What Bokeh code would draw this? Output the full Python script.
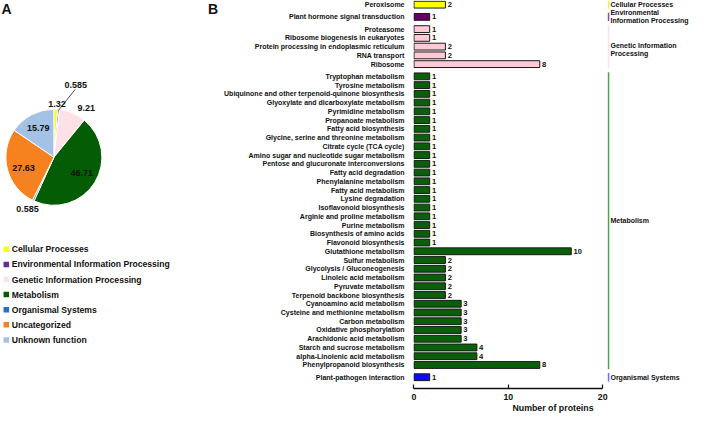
import math
from bokeh.plotting import figure
from bokeh.models import Range1d, FixedTicker, ColumnDataSource
from bokeh.layouts import row
from bokeh.embed import file_html
from bokeh.resources import INLINE
from bokeh.core.properties import value

# ---------------- data ----------------
pie_categories = ["Cellular Processes", "Environmental Information Processing",
                  "Genetic Information Processing", "Metabolism", "Organismal Systems",
                  "Uncategorized", "Unknown function"]
pie_values = [1.32, 0.585, 9.21, 46.71, 0.585, 27.63, 15.79]
pie_labels = ["1.32", "0.585", "9.21", "46.71", "0.585", "27.63", "15.79"]
pie_colors = ["#ffff00", "#6a2a9a", "#fde1e6", "#045d04", "#1f6fd6", "#f5821f", "#a3c2e6"]

group_names = ["Cellular Processes", "Environmental\nInformation Processing",
               "Genetic Information\nProcessing", "Metabolism", "Organismal Systems"]
group_bar_colors = ["#ffff00", "#660066", "#ffc9d6", "#0a5f0a", "#0a0aff"]
group_line_colors = ["#eeee44", "#8a4aa5", "#f9e1ea", "#4fa34f", "#6c6cf0"]

pathways = [
    "Peroxisome",
    "Plant hormone signal transduction",
    "Proteasome", "Ribosome biogenesis in eukaryotes",
    "Protein processing in endoplasmic reticulum", "RNA transport", "Ribosome",
    "Tryptophan metabolism", "Tyrosine metabolism",
    "Ubiquinone and other terpenoid-quinone biosynthesis",
    "Glyoxylate and dicarboxylate metabolism", "Pyrimidine metabolism",
    "Propanoate metabolism", "Fatty acid biosynthesis",
    "Glycine, serine and threonine metabolism", "Citrate cycle (TCA cycle)",
    "Amino sugar and nucleotide sugar metabolism",
    "Pentose and glucuronate interconversions", "Fatty acid degradation",
    "Phenylalanine metabolism", "Fatty acid metabolism", "Lysine degradation",
    "Isoflavonoid biosynthesis", "Arginie and proline metabolism",
    "Purine metabolism", "Biosynthesis of amino acids", "Flavonoid biosynthesis",
    "Glutathione metabolism", "Sulfur metabolism", "Glycolysis / Gluconeogenesis",
    "Linoleic acid metabolism", "Pyruvate metabolism",
    "Terpenoid backbone biosynthesis", "Cyanoamino acid metabolism",
    "Cysteine and methionine metabolism", "Carbon metabolism",
    "Oxidative phosphorylation", "Arachidonic acid metabolism",
    "Starch and sucrose metabolism", "alpha-Linolenic acid metabolism",
    "Phenylpropanoid biosynthesis",
    "Plant-pathogen interaction",
]
pathway_group = [0, 1, 2, 2, 2, 2, 2] + [3] * 34 + [4]
protein_counts = [2, 1, 1, 1, 2, 2, 8,
                  1, 1, 1, 1, 1, 1, 1, 1, 1, 1, 1, 1, 1, 1, 1, 1, 1, 1, 1, 1,
                  10, 2, 2, 2, 2, 2, 3, 3, 3, 3, 3, 4, 4, 8,
                  1]
axis_tick_labels = ["0", "10", "20"]

FONT = value("Liberation Sans")
TXT = "#111111"

BH = 415
MB = 22  # bottom border shared by both panels (frames are aligned in the row)

# ---------------- pie panel ----------------
PW, PH = 218, BH
pie = figure(width=PW, height=PH, x_range=Range1d(0, PW), y_range=Range1d(MB, PH),
             x_axis_location=None, y_axis_location=None,
             output_backend="svg", toolbar_location=None,
             min_border_left=0, min_border_right=0, min_border_top=0,
             min_border_bottom=MB)
pie.grid.visible = False
pie.outline_line_color = None

cx, cy, R = 53.4, PH - 158.8, 48.0
total = sum(pie_values)
starts, ends, mids = [], [], []
cum = 0.0
for v in pie_values:
    c0, c1 = cum / total, (cum + v) / total
    starts.append(math.pi / 2 - 2 * math.pi * c1)
    ends.append(math.pi / 2 - 2 * math.pi * c0)
    mids.append(2 * math.pi * (c0 + c1) / 2)  # clockwise from top
    cum += v
pie.wedge(x=cx, y=cy, radius=R, start_angle=starts, end_angle=ends,
          fill_color=pie_colors, line_color="white", line_width=1)

# label placement (radius factor, angle offset in degrees)
lab_f = [1.12, 1.60, 1.24, 0.67, 1.23, 0.67, 0.70]
lab_d = [1.0, 10.8, 10.0, -2.0, 1.0, -5.0, 0.0]
lx, ly = [], []
for m, f, d in zip(mids, lab_f, lab_d):
    a = m + math.radians(d)
    lx.append(cx + R * f * math.sin(a))
    ly.append(cy + R * f * math.cos(a))
pie.text(x=lx, y=ly, text=pie_labels, text_font=FONT, text_font_style="bold",
         text_font_size="9px", text_color=TXT, text_align="center", text_baseline="middle")
# leader line for the small environmental slice
m = mids[1]
a_end = m + math.radians(11.5)
pie.line(x=[cx + R * math.sin(m), cx + R * 1.50 * math.sin(a_end)],
         y=[cy + R * math.cos(m), cy + R * 1.50 * math.cos(a_end)],
         line_color="#222222", line_width=0.8)

# legend
leg_y = [PH - (252.0 + 15.3 * i) for i in range(len(pie_categories))]
pie.scatter(x=[5.8] * len(leg_y), y=leg_y, marker="square", size=5.5,
            fill_color=pie_colors, line_color=None)
pie.text(x=[11.2] * len(leg_y), y=leg_y, text=pie_categories, text_font=FONT,
         text_font_style="bold", text_font_size="8.6px", text_color=TXT,
         text_align="left", text_baseline="middle")

pie.text(x=[1, 207.4], y=[PH - 0.5, PH - 0.5], text=["A", "B"], text_font=FONT,
         text_font_style="bold", text_font_size="14px", text_color=TXT,
         text_align="left", text_baseline="top")

# ---------------- bar panel ----------------
BW = 474
ML = 195
px_per_unit = 15.73
frame_w = BW - ML
ys = [10 * i + 4 * g for i, g in enumerate(pathway_group)]  # tenths of a row
bar = figure(width=BW, height=BH, output_backend="svg", toolbar_location=None,
             x_range=Range1d(-0.03, frame_w / px_per_unit - 0.03),
             y_range=Range1d(438.9, -4.74),
             min_border_left=ML, min_border_right=0, min_border_top=0,
             min_border_bottom=MB)
bar.grid.visible = False
bar.outline_line_color = None
bar.background_fill_color = "white"

src = ColumnDataSource(dict(y=ys, v=protein_counts, name=pathways,
                            color=[group_bar_colors[g] for g in pathway_group],
                            lab=[str(c) for c in protein_counts],
                            lx=[c + 0.14 for c in protein_counts]))
bar.hbar(y="y", left=0, right="v", height=7.8, source=src, fill_color="color",
         line_color="#1a1a1a", line_width=1)
bar.text(x="lx", y="y", text="lab", source=src, text_font=FONT, text_font_style="bold",
         text_font_size="7.6px", text_color=TXT, text_align="left", text_baseline="middle")

# group brackets and titles
title_shift = [0, 0, 3.5, 0, 0]
for g, gname in enumerate(group_names):
    gy = [y for y, gg in zip(ys, pathway_group) if gg == g]
    bar.line(x=[12.37, 12.37], y=[min(gy) - 4.8, max(gy) + 4.8],
             line_color=group_line_colors[g], line_width=1.5)
    bar.text(x=[12.49], y=[(min(gy) + max(gy)) / 2 + title_shift[g]], text=[gname],
             text_font=FONT, text_font_style="bold", text_font_size="7.0px",
             text_color=TXT, text_align="left", text_baseline="middle",
             text_line_height=1.15)

yax = bar.yaxis[0]
yax.ticker = FixedTicker(ticks=ys)
yax.major_label_overrides = {y: n for y, n in zip(ys, pathways)}
yax.axis_line_color = None
yax.major_tick_line_color = None
yax.minor_tick_line_color = None
yax.major_label_standoff = 3
yax.major_label_text_font = "Liberation Sans"
yax.major_label_text_font_style = "bold"
yax.major_label_text_font_size = "7.0px"
yax.major_label_text_color = TXT

axis_span = 12
tick_pos = [k * axis_span / (len(axis_tick_labels) - 1) for k in range(len(axis_tick_labels))]
xax = bar.xaxis[0]
xax.bounds = (0, axis_span)
xax.ticker = FixedTicker(ticks=tick_pos)
xax.major_label_overrides = {t: l for t, l in zip(tick_pos, axis_tick_labels)}
xax.axis_line_color = "#111111"
xax.axis_line_width = 1.5
xax.major_tick_in = 4
xax.major_tick_out = 0
xax.major_tick_line_color = "#111111"
xax.major_tick_line_width = 1.2
xax.minor_tick_line_color = None
xax.major_label_standoff = 5
xax.major_label_text_font = "Liberation Sans"
xax.major_label_text_font_style = "bold"
xax.major_label_text_font_size = "8.8px"
xax.major_label_text_color = TXT
xax.axis_label = "Number of proteins"
xax.axis_label_standoff = 0
xax.axis_label_text_font = "Liberation Sans"
xax.axis_label_text_font_style = "bold"
xax.axis_label_text_font_size = "8.8px"
xax.axis_label_text_color = TXT

layout = row(pie, bar)
open("out.html", "w").write(file_html(layout, INLINE))
